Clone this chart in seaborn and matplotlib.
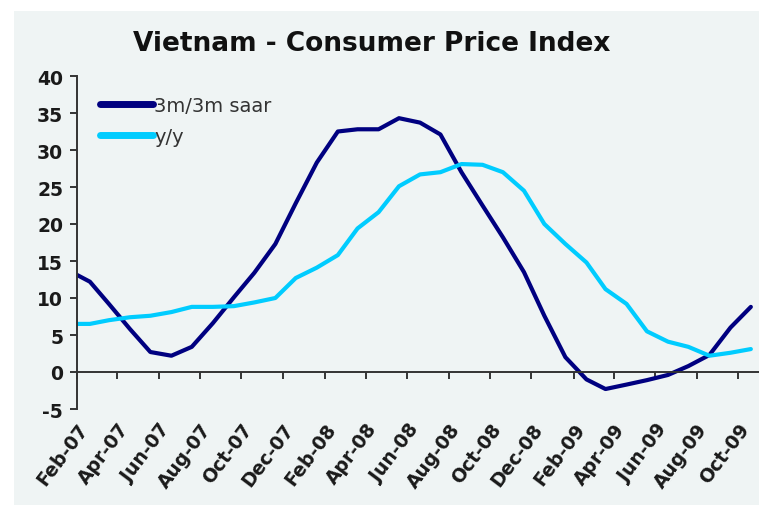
# Vietnam CPI: 3m/3m saar vs y/y, monthly Jan-07 to Oct-09
import pandas as pd
import matplotlib
matplotlib.use("Agg")
import matplotlib.pyplot as plt
import matplotlib.dates as mdates
from matplotlib.patches import Rectangle
import seaborn as sns

# monthly observations (plotted around the 20th of each month)
months = pd.date_range("2007-01-01", "2009-10-01", freq="MS") + pd.Timedelta(days=19)

saar = [13.7, 12.2, 9.2, 5.8, 2.7, 2.2, 3.4, 6.6, 10.1, 13.4, 17.3, 22.8,
        28.3, 32.5, 32.8, 32.8, 34.3, 33.7, 32.1, 27.0, 22.5, 18.2, 13.5, 7.6,
        2.0, -1.0, -2.3, -1.7, -1.1, -0.4, 0.8, 2.3, 6.0, 8.8]
yoy = [6.5, 6.5, 7.0, 7.4, 7.6, 8.1, 8.8, 8.8, 8.9, 9.4, 10.0, 12.7,
       14.1, 15.8, 19.4, 21.6, 25.1, 26.7, 27.0, 28.1, 28.0, 27.0, 24.5, 20.0,
       17.3, 14.8, 11.2, 9.2, 5.5, 4.1, 3.4, 2.2, 2.6, 3.1]

series_names = ["3m/3m saar", "y/y"]
series_colors = ["#000080", "#00ccff"]
yticks = [-5, 0, 5, 10, 15, 20, 25, 30, 35, 40]

sns.set_theme(style="white")
plt.rcParams["font.family"] = ["DejaVu Sans"]
plt.rcParams["axes.unicode_minus"] = False

fig = plt.figure(figsize=(7.59, 5.06), dpi=100, facecolor="white")
bg = "#eff4f4"
fig.patches.append(Rectangle((14 / 759, 0), 1, 1 - 12 / 506, transform=fig.transFigure,
                             facecolor=bg, edgecolor="none", zorder=-10))

ax = fig.add_axes([77 / 759, 96 / 506, (759 - 77) / 759, (410 - 77) / 506])
ax.set_facecolor("none")

df = pd.DataFrame({"date": list(months) * 2,
                   "value": saar + yoy,
                   "series": [series_names[0]] * len(saar) + [series_names[1]] * len(yoy)})
sns.lineplot(data=df, x="date", y="value", hue="series", palette=series_colors,
             hue_order=series_names, linewidth=3.0, ax=ax)

ax.set_xlim(pd.Timestamp("2007-02-01"), pd.Timestamp("2009-11-01"))
ax.set_ylim(-5, 40)
ax.set_yticks(yticks)
ax.set_xlabel("")
ax.set_ylabel("")

# axes look like Excel: x axis crosses at zero, labels low
for s in ["top", "right"]:
    ax.spines[s].set_visible(False)
ax.spines["bottom"].set_position(("data", 0))
for s in ["left", "bottom"]:
    ax.spines[s].set_color("#333333")
    ax.spines[s].set_linewidth(1.4)
ax.set_zorder(1)

ax.xaxis.set_major_locator(mdates.MonthLocator(bymonth=[2, 4, 6, 8, 10, 12]))
ax.xaxis.set_major_formatter(mdates.DateFormatter("%b-%y"))
ax.tick_params(axis="x", direction="out", length=5, width=1.4, color="#333333",
               pad=29, labelsize=13.5, labelcolor="#1a1a1a", bottom=True)
ax.tick_params(axis="y", direction="out", length=5, width=1.4, color="#333333",
               pad=5, labelsize=13.5, labelcolor="#1a1a1a", left=True)
for lab in ax.get_xticklabels():
    lab.set_rotation(53)
    lab.set_ha("right")
    lab.set_rotation_mode("anchor")
    lab.set_fontweight("bold")
for lab in ax.get_yticklabels():
    lab.set_fontweight("bold")

leg = ax.legend(loc="upper left", bbox_to_anchor=((100 - 77) / 682, 1 - (97 - 77) / 333),
                frameon=False, fontsize=14, handlelength=2.7, handletextpad=0.1,
                labelspacing=0.6, borderaxespad=0, borderpad=0)
for line in leg.get_lines():
    line.set_linewidth(5)
for t in leg.get_texts():
    t.set_color("#333333")

fig.text(0.49, 1 - 44 / 506, "Vietnam - Consumer Price Index", ha="center", va="center",
         fontsize=19, fontweight="bold", color="#111111")

fig.savefig("out.png", dpi=100, facecolor=fig.get_facecolor())
